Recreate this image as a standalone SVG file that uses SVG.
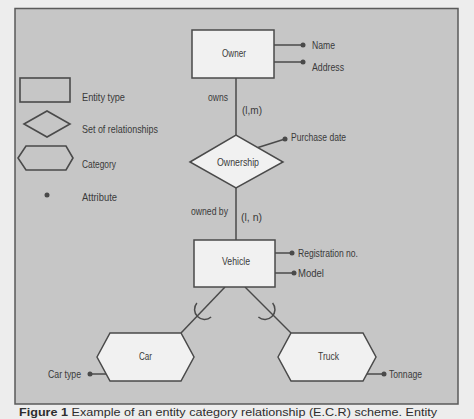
<svg xmlns="http://www.w3.org/2000/svg" width="474" height="419" viewBox="0 0 474 419">
<style>
  .bg { fill: #ededed; }
  .frame { fill: #c6c6c6; stroke: #5a5a5a; stroke-width: 1.5; }
  .node { fill: #f1f1f1; stroke: #4a4a4a; stroke-width: 1.5; }
  .legend { fill: #c6c6c6; stroke: #4a4a4a; stroke-width: 1.6; }
  .line { fill: none; stroke: #4a4a4a; stroke-width: 1.5; }
  .dot { fill: #4a4a4a; }
  text { font-family: "Liberation Sans", Arial, sans-serif; font-size: 11.5px; fill: #3a3a3a; }
  .cap { font-size: 11.5px; fill: #2e2e2e; }
</style>
<rect class="bg" x="0" y="0" width="474" height="419"/>
<rect class="frame" x="15" y="8.5" width="443" height="395.5"/>

<g id="legend">
  <rect class="legend" x="20" y="78" width="50" height="24"/>
  <text x="82" y="101" textLength="43" lengthAdjust="spacingAndGlyphs">Entity type</text>
  <polygon class="legend" points="24,124 47,111 70,124 47,137"/>
  <text x="82" y="133" textLength="76" lengthAdjust="spacingAndGlyphs">Set of relationships</text>
  <polygon class="legend" points="18,158 26,146 66,146 73,158 66,170 26,170"/>
  <text x="82" y="168" textLength="34" lengthAdjust="spacingAndGlyphs">Category</text>
  <circle class="dot" cx="47" cy="195" r="2.5"/>
  <text x="82" y="201" textLength="35" lengthAdjust="spacingAndGlyphs">Attribute</text>
</g>

<g id="connectors">
  <line class="line" x1="236" y1="78" x2="236" y2="135"/>
  <line class="line" x1="236" y1="188" x2="236" y2="240"/>
  <line class="line" x1="274" y1="45" x2="303" y2="45"/>
  <line class="line" x1="274" y1="62" x2="303" y2="62"/>
  <line class="line" x1="258" y1="147.5" x2="285" y2="139"/>
  <line class="line" x1="275" y1="253" x2="292" y2="253"/>
  <line class="line" x1="275" y1="273" x2="294" y2="273"/>
  <line class="line" x1="225" y1="287" x2="181" y2="333"/>
  <line class="line" x1="245" y1="287" x2="291" y2="333"/>
  <path class="line" d="M196.9,303 A10,10 0 0 0 211.1,317"/>
  <path class="line" d="M272.6,303 A10,10 0 0 1 258.4,317"/>
  <line class="line" x1="90" y1="374" x2="106" y2="374"/>
  <line class="line" x1="367" y1="374" x2="384" y2="374"/>
  <circle class="dot" cx="303" cy="45" r="2.5"/>
  <circle class="dot" cx="303" cy="62" r="2.5"/>
  <circle class="dot" cx="285" cy="139" r="2.5"/>
  <circle class="dot" cx="292" cy="253" r="2.5"/>
  <circle class="dot" cx="294" cy="273" r="2.5"/>
  <circle class="dot" cx="90" cy="374" r="2.5"/>
  <circle class="dot" cx="384" cy="374" r="2.5"/>
  <text x="208" y="101" textLength="20" lengthAdjust="spacingAndGlyphs">owns</text>
  <text x="242" y="114" textLength="20" lengthAdjust="spacingAndGlyphs">(l,m)</text>
  <text x="191" y="215" textLength="37" lengthAdjust="spacingAndGlyphs">owned by</text>
  <text x="241" y="221" textLength="21" lengthAdjust="spacingAndGlyphs">(l, n)</text>
</g>

<g id="owner">
  <rect class="node" x="192" y="30" width="82" height="48"/>
  <text x="222" y="57" textLength="24" lengthAdjust="spacingAndGlyphs">Owner</text>
</g>
<g id="attr-name">
  <text x="312" y="49" textLength="23" lengthAdjust="spacingAndGlyphs">Name</text>
</g>
<g id="attr-address">
  <text x="312" y="71" textLength="32" lengthAdjust="spacingAndGlyphs">Address</text>
</g>

<g id="ownership">
  <polygon class="node" points="190,162 236,135 283,162 236,188"/>
  <text x="217" y="166" textLength="42" lengthAdjust="spacingAndGlyphs">Ownership</text>
</g>
<g id="attr-purchase-date">
  <text x="291" y="141" textLength="55" lengthAdjust="spacingAndGlyphs">Purchase date</text>
</g>

<g id="vehicle">
  <rect class="node" x="194" y="240" width="81" height="47"/>
  <text x="222" y="265" textLength="28" lengthAdjust="spacingAndGlyphs">Vehicle</text>
</g>
<g id="attr-registration">
  <text x="298" y="257" textLength="60" lengthAdjust="spacingAndGlyphs">Registration no.</text>
</g>
<g id="attr-model">
  <text x="298" y="277" textLength="26" lengthAdjust="spacingAndGlyphs">Model</text>
</g>

<g id="car">
  <polygon class="node" points="97,357 110,333 181,333 194,357 181,381 110,381"/>
  <text x="139" y="360" textLength="13" lengthAdjust="spacingAndGlyphs">Car</text>
</g>
<g id="attr-car-type">
  <text x="48" y="378" textLength="33" lengthAdjust="spacingAndGlyphs">Car type</text>
</g>

<g id="truck">
  <polygon class="node" points="278,357 291,333 363,333 376,357 363,381 291,381"/>
  <text x="318" y="360" textLength="21" lengthAdjust="spacingAndGlyphs">Truck</text>
</g>
<g id="attr-tonnage">
  <text x="389" y="378" textLength="33" lengthAdjust="spacingAndGlyphs">Tonnage</text>
</g>

<text class="cap" x="19" y="416" textLength="418" lengthAdjust="spacingAndGlyphs"><tspan font-weight="bold">Figure 1</tspan> Example of an entity category relationship (E.C.R) scheme. Entity</text>
</svg>
